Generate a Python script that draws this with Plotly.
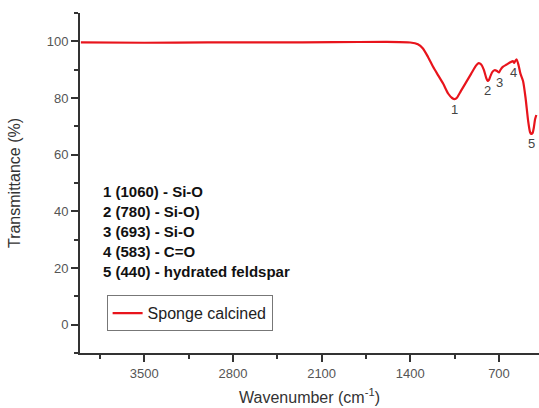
import plotly.graph_objects as go

# FTIR spectrum data
wavenumber = [4000, 3500, 3000, 2500, 2000, 1600, 1400, 1340, 1300, 1260, 1220, 1180,
              1140, 1100, 1070, 1050, 1030, 1000, 960, 920, 880, 860, 840, 820, 800,
              789, 780, 765, 750, 735, 715, 700, 690, 670, 640, 610, 590, 580, 570,
              560, 545, 530, 510, 490, 470, 455, 445, 435, 425, 415, 405]
transmittance = [99.6, 99.5, 99.6, 99.6, 99.7, 99.8, 99.6, 99.0, 97.5, 94.5, 91.0, 88.0,
                 85.0, 81.5, 80.0, 79.6, 80.2, 82.5, 85.5, 88.5, 91.5, 92.3, 91.8, 90.0, 87.0,
                 86.0, 86.3, 88.0, 89.3, 89.8, 89.5, 89.0, 89.8, 91.0, 91.8, 92.6, 93.0, 92.4, 93.2,
                 93.6, 91.5, 88.5, 86.0, 80.0, 72.0, 68.0, 67.3, 67.6, 69.5, 72.5, 74.0]

peak_labels = ["1", "2", "3", "4", "5"]
peak_x = [1050, 789, 695, 585, 442]
peak_y = [76.0, 82.8, 85.6, 89.0, 64.0]

assignments = ["1 (1060) - Si-O", "2 (780) - Si-O)", "3 (693) - Si-O",
               "4 (583) - C=O", "5 (440) - hydrated feldspar"]
assign_y = [47.1, 40.0, 32.9, 25.8, 18.8]

x_ticks = [3500, 2800, 2100, 1400, 700]
y_ticks = [0, 20, 40, 60, 80, 100]

FONT = "Arial, Liberation Sans, sans-serif"

fig = go.Figure()
fig.add_trace(go.Scatter(
    x=wavenumber, y=transmittance, mode="lines", name="Sponge calcined",
    line=dict(color="#e8141c", width=2.2, shape="spline", smoothing=0.6),
))

for t, xv, yv in zip(peak_labels, peak_x, peak_y):
    fig.add_annotation(x=xv, y=yv, text=t, showarrow=False, xref="x", yref="y",
                       font=dict(family=FONT, size=13, color="#444"))

for t, yv in zip(assignments, assign_y):
    fig.add_annotation(x=0.046, y=yv, xref="paper", yref="y", text="<b>" + t + "</b>",
                       showarrow=False, xanchor="left", yanchor="middle",
                       font=dict(family=FONT, size=15, color="#111"))

axis_common = dict(showline=True, linecolor="#333", linewidth=2, ticks="outside",
                   tickcolor="#333", tickwidth=2, ticklen=7, showgrid=False,
                   zeroline=False, tickfont=dict(family=FONT, size=13, color="#555"))

fig.update_xaxes(range=[4007, 384], tickvals=x_ticks,
                 minor=dict(ticks="outside", ticklen=4, tickwidth=2, tickcolor="#333",
                            tickvals=[3850, 3150, 2450, 1750, 1050]),
                 title=dict(text="Wavenumber (cm<sup>-1</sup>)", standoff=12,
                            font=dict(family=FONT, size=16, color="#333")),
                 **axis_common)
fig.update_yaxes(range=[-10, 110], tickvals=y_ticks,
                 minor=dict(ticks="outside", ticklen=4, tickwidth=2, tickcolor="#333",
                            tickvals=[-10, 10, 30, 50, 70, 90, 110]),
                 title=dict(text="Transmittance (%)", standoff=22,
                            font=dict(family=FONT, size=16, color="#333")),
                 **axis_common)

fig.update_layout(
    width=539, height=408,
    margin=dict(l=80, r=0, t=13, b=55),
    paper_bgcolor="white", plot_bgcolor="white",
    showlegend=True,
    legend=dict(x=0.058, y=0.17, xanchor="left", yanchor="top",
                bordercolor="#777", borderwidth=1, bgcolor="white",
                font=dict(family=FONT, size=16, color="#222"),
                tracegroupgap=0, itemwidth=30),
)

fig.write_html("out.html", config={"displayModeBar": False},
               post_script="document.body.style.margin='0';document.body.style.overflow='hidden';")
